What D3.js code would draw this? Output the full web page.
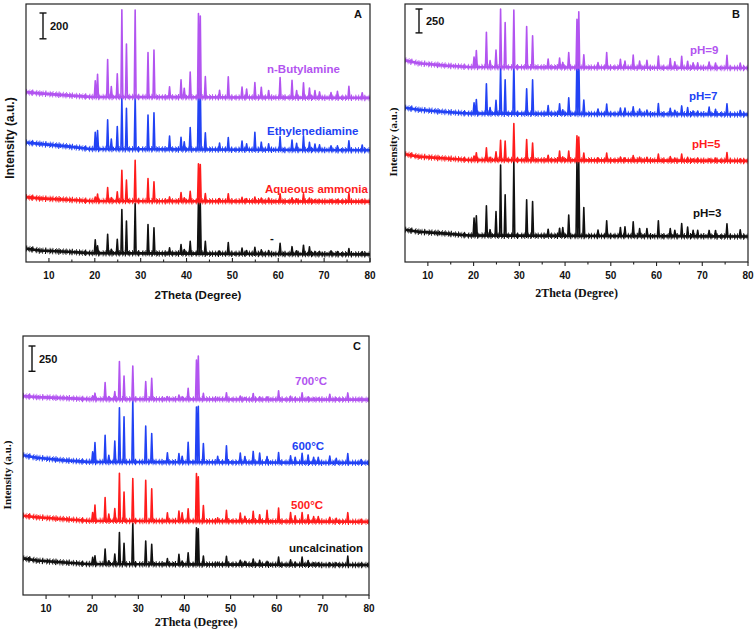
<!DOCTYPE html>
<html>
<head>
<meta charset="utf-8">
<script src="https://cdn.jsdelivr.net/npm/d3@7"></script>
<style>
  body { margin: 0; background: #fff; }
  svg { display: block; }
  .sans { font-family: "Liberation Sans", Arial, sans-serif; font-weight: bold; }
  .serif { font-family: "Liberation Serif", "Times New Roman", serif; font-weight: bold; }
</style>
</head>
<body>
<svg id="chart" width="756" height="629"></svg>
<script>
// ---------- DATA ----------
// Common reflection positions (2θ, degrees)
const twoTheta = [20.1, 20.6, 22.8, 23.6, 24.9, 25.9, 26.9, 28.8, 31.6, 32.9, 36.3, 38.8, 39.5, 40.8, 42.6, 43.0, 44.1, 47.2, 49.1, 52.1, 53.1, 54.9, 56.3, 57.9, 60.4, 63.0, 64.0, 65.5, 66.8, 68.0, 69.0, 71.5, 72.9, 75.4, 78.3];
// Baseline knots (2θ) for low-angle background
const baseAngles = [5, 8, 14, 19, 80];
const xTicks = [10, 20, 30, 40, 50, 60, 70, 80];

// Panel A (intensity units)
const labelsA = ["-", "Aqueous ammonia", "Ethylenediamine", "n-Butylamine"];
const offsetsA = [59, 468, 866, 1272];
const riseA = [[45, 30, 20, 10, 0], [35, 25, 15, 5, 0], [60, 50, 30, 10, 0], [45, 35, 20, 8, 0]];
const heightsA_black = [103, 57, 146, 31, 108, 339, 249, 386, 224, 198, 44, 69, 31, 95, 429, 391, 95, 21, 87, 44, 26, 51, 31, 26, 82, 57, 26, 69, 57, 21, 21, 26, 21, 44, 21];
const heightsA_red = [31, 54, 105, 26, 72, 239, 162, 316, 175, 149, 33, 67, 26, 77, 290, 285, 59, 21, 59, 31, 21, 33, 26, 26, 59, 28, 21, 59, 26, 15, 15, 15, 15, 64, 15];
const heightsA_blue = [129, 144, 226, 77, 175, 393, 316, 419, 265, 283, 103, 93, 59, 170, 496, 488, 129, 51, 93, 67, 46, 136, 59, 46, 103, 77, 51, 110, 59, 46, 41, 33, 33, 72, 41];
const heightsA_purple = [125, 175, 290, 80, 180, 675, 410, 675, 345, 365, 80, 135, 70, 195, 650, 630, 160, 55, 160, 80, 65, 115, 80, 55, 155, 135, 55, 115, 75, 55, 45, 40, 50, 90, 40];

// Panel B
const labelsB = ["pH=3", "pH=5", "pH=7", "pH=9"];
const offsetsB = [267, 1058, 1544, 2030];
const riseB = [[70, 50, 30, 10, 0], [70, 45, 25, 10, 0], [70, 50, 25, 10, 0], [80, 50, 25, 10, 0]];
const heightsB_black = [184, 208, 312, 62, 253, 739, 427, 781, 375, 357, 69, 80, 87, 219, 791, 770, 298, 62, 160, 90, 97, 149, 80, 80, 160, 80, 62, 132, 97, 62, 62, 62, 62, 132, 69];
const heightsB_red = [42, 76, 128, 28, 87, 208, 198, 382, 215, 180, 52, 97, 35, 97, 257, 243, 76, 28, 76, 35, 28, 52, 35, 35, 69, 42, 28, 69, 35, 21, 28, 21, 28, 87, 21];
const heightsB_blue = [111, 146, 312, 62, 139, 486, 354, 548, 260, 354, 87, 104, 42, 167, 597, 597, 146, 52, 104, 62, 62, 76, 52, 42, 111, 62, 42, 87, 69, 35, 35, 76, 52, 111, 42];
const heightsB_purple = [104, 174, 364, 69, 180, 607, 468, 597, 427, 330, 87, 97, 52, 156, 503, 583, 132, 52, 156, 87, 69, 132, 69, 76, 121, 97, 62, 121, 69, 52, 52, 62, 52, 132, 52];

// Panel C
const labelsC = ["uncalcination", "500°C", "600°C", "700°C"];
const offsetsC = [296, 724, 1306, 1931];
const riseC = [[66, 45, 25, 10, 0], [60, 45, 25, 10, 0], [75, 50, 25, 10, 0], [35, 25, 15, 5, 0]];
const heightsC_black = [66, 82, 148, 33, 99, 313, 207, 405, 230, 197, 56, 99, 33, 115, 362, 352, 82, 23, 82, 43, 33, 56, 43, 33, 76, 49, 26, 76, 43, 20, 20, 20, 20, 89, 16];
const heightsC_red = [82, 155, 230, 66, 122, 470, 286, 418, 401, 319, 82, 99, 82, 122, 470, 438, 155, 33, 109, 82, 49, 99, 66, 109, 132, 89, 56, 89, 66, 49, 49, 43, 33, 89, 23];
const heightsC_blue = [99, 191, 263, 66, 207, 536, 447, 618, 355, 283, 92, 86, 59, 197, 546, 553, 184, 59, 164, 92, 59, 109, 92, 59, 99, 66, 53, 92, 76, 53, 53, 66, 43, 92, 33];
const heightsC_purple = [33, 59, 165, 26, 76, 372, 230, 329, 174, 207, 26, 43, 26, 109, 388, 428, 59, 20, 66, 33, 20, 59, 26, 26, 86, 33, 20, 66, 26, 16, 16, 53, 16, 66, 13];

const scaleBarA = 200, scaleBarB = 250, scaleBarC = 250;

// ---------- STYLE ----------
const colors = ["#111111", "#ff1c1c", "#2242f4", "#b254f0"];

const svg = d3.select("#chart");

function drawPanel(cfg) {
  const g = svg.append("g");
  const x = d3.scaleLinear().domain([5, 80]).range([cfg.left, cfg.right]);
  const y = d3.scaleLinear().domain([0, cfg.ymax]).range([cfg.bottom, cfg.top]);

  const clipId = "clip" + cfg.letter;
  svg.append("clipPath").attr("id", clipId).append("rect")
    .attr("x", cfg.left).attr("y", cfg.top)
    .attr("width", cfg.right - cfg.left).attr("height", cfg.bottom - cfg.top);

  const line = d3.line().x(d => x(d[0])).y(d => y(d[1]));
  const plot = g.append("g").attr("clip-path", `url(#${clipId})`);

  cfg.series.forEach((s, i) => {
    const base = d3.scaleLinear().domain(baseAngles).range(s.rise.map(r => r + s.offset));
    const knots = baseAngles.map((a, k) => [a, s.offset + s.rise[k]]);
    const pts = knots.slice();
    twoTheta.forEach((p, k) => {
      pts.push([p - 0.2, base(p - 0.2)]);
      pts.push([p, base(p) + s.heights[k]]);
      pts.push([p + 0.2, base(p + 0.2)]);
    });
    pts.sort((a, b) => a[0] - b[0]);
    // background band (noisy look via dash textures)
    const band = line(knots);
    plot.append("path").attr("d", band)
      .attr("fill", "none").attr("stroke", colors[i]).attr("stroke-width", 2.6);
    plot.append("path").attr("d", band)
      .attr("fill", "none").attr("stroke", colors[i]).attr("stroke-width", 6.5)
      .attr("stroke-dasharray", "0.8 2.6 0.6 1.9 1.1 3.4 0.7 2.2");
    plot.append("path").attr("d", band)
      .attr("fill", "none").attr("stroke", colors[i]).attr("stroke-width", 4.5)
      .attr("stroke-dasharray", "1 1.3 0.7 1.8 1.3 0.9 0.6 2.1");
    plot.append("path")
      .attr("d", line(pts))
      .attr("fill", "none").attr("stroke", colors[i]).attr("stroke-width", 1.6)
      .attr("stroke-linejoin", "round");
    g.append("text")
      .attr("class", "sans")
      .attr("x", s.lx).attr("y", s.ly + 4.5)
      .attr("font-size", 11.5)
      .attr("fill", colors[i])
      .text(s.label);
  });

  // frame
  g.append("rect").attr("x", cfg.left).attr("y", cfg.top)
    .attr("width", cfg.right - cfg.left).attr("height", cfg.bottom - cfg.top)
    .attr("fill", "none").attr("stroke", "#222").attr("stroke-width", 1.2);

  // x axis
  const dir = cfg.tickIn ? -1 : 1;
  const minor = d3.range(15, 80, 10);
  const axisG = g.append("g");
  axisG.selectAll("line.major").data(xTicks).join("line")
    .attr("x1", d => x(d)).attr("x2", d => x(d))
    .attr("y1", cfg.bottom).attr("y2", cfg.bottom + dir * 4)
    .attr("stroke", "#222").attr("stroke-width", 1.1);
  axisG.selectAll("line.minor").data(minor).join("line")
    .attr("x1", d => x(d)).attr("x2", d => x(d))
    .attr("y1", cfg.bottom).attr("y2", cfg.bottom + dir * 2.5)
    .attr("stroke", "#222").attr("stroke-width", 1.1);
  axisG.selectAll("text").data(xTicks).join("text")
    .attr("class", "sans").attr("font-size", 10)
    .attr("x", d => x(d)).attr("y", cfg.bottom + 16.5)
    .attr("text-anchor", "middle").attr("fill", "#111")
    .text(d => d);

  // axis titles
  g.append("text").attr("class", cfg.titleClass)
    .attr("font-size", cfg.titleSize)
    .attr("x", (cfg.left + cfg.right) / 2).attr("y", cfg.xTitleY)
    .attr("text-anchor", "middle").attr("fill", "#111")
    .text("2Theta (Degree)");
  g.append("text").attr("class", cfg.titleClass)
    .attr("font-size", cfg.yTitleSize)
    .attr("transform", `translate(${cfg.yTitleX},${cfg.yTitleCY}) rotate(-90)`)
    .attr("text-anchor", "middle").attr("dy", "0.35em").attr("fill", "#111")
    .text("Intensity (a.u.)");

  // panel letter
  g.append("text").attr("class", "sans").attr("font-size", 11)
    .attr("x", cfg.right - 8).attr("y", cfg.top + 14)
    .attr("text-anchor", "end").attr("fill", "#111").text(cfg.letter);

  // intensity scale bar
  const barTop = y(cfg.ymax) + cfg.barDy;
  const barLen = y(0) - y(cfg.bar);
  const bx = cfg.left + cfg.barDx;
  const sb = g.append("g").attr("stroke", "#111").attr("stroke-width", 1.4);
  sb.append("line").attr("x1", bx).attr("x2", bx).attr("y1", barTop).attr("y2", barTop + barLen);
  sb.append("line").attr("x1", bx - 3.5).attr("x2", bx + 3.5).attr("y1", barTop).attr("y2", barTop);
  sb.append("line").attr("x1", bx - 3.5).attr("x2", bx + 3.5).attr("y1", barTop + barLen).attr("y2", barTop + barLen);
  g.append("text").attr("class", "sans").attr("font-size", 11)
    .attr("x", bx + 7).attr("y", barTop + barLen / 2 + 4)
    .attr("fill", "#111").text(cfg.bar);
}

function mk(labels, offsets, rises, heights, lpos) {
  return labels.map((l, i) => ({
    label: l, offset: offsets[i], rise: rises[i], heights: heights[i],
    lx: lpos[i][0], ly: lpos[i][1]
  }));
}

drawPanel({
  letter: "A", left: 26, right: 370, top: 4, bottom: 262, ymax: 2000, tickIn: true,
  titleClass: "sans", titleSize: 11.5, yTitleSize: 12, xTitleY: 299, yTitleX: 10, yTitleCY: 138,
  bar: scaleBarA, barDx: 17, barDy: 9,
  series: mk(labelsA, offsetsA, riseA,
    [heightsA_black, heightsA_red, heightsA_blue, heightsA_purple],
    [[270, 237], [265, 188], [267, 130], [267, 68]])
});

drawPanel({
  letter: "B", left: 405, right: 748, top: 4, bottom: 262, ymax: 2700, tickIn: false,
  titleClass: "serif", titleSize: 12, yTitleSize: 11, xTitleY: 297, yTitleX: 393, yTitleCY: 142,
  bar: scaleBarB, barDx: 14, barDy: 5,
  series: mk(labelsB, offsetsB, riseB,
    [heightsB_black, heightsB_red, heightsB_blue, heightsB_purple],
    [[693, 212], [692, 143], [689, 95], [690, 49]])
});

drawPanel({
  letter: "C", left: 23, right: 369, top: 336, bottom: 595, ymax: 2560, tickIn: false,
  titleClass: "serif", titleSize: 12, yTitleSize: 11, xTitleY: 626, yTitleX: 7, yTitleCY: 475,
  bar: scaleBarC, barDx: 9, barDy: 10,
  series: mk(labelsC, offsetsC, riseC,
    [heightsC_black, heightsC_red, heightsC_blue, heightsC_purple],
    [[289, 547], [291, 504], [292, 445], [295, 380]])
});
</script>
</body>
</html>
